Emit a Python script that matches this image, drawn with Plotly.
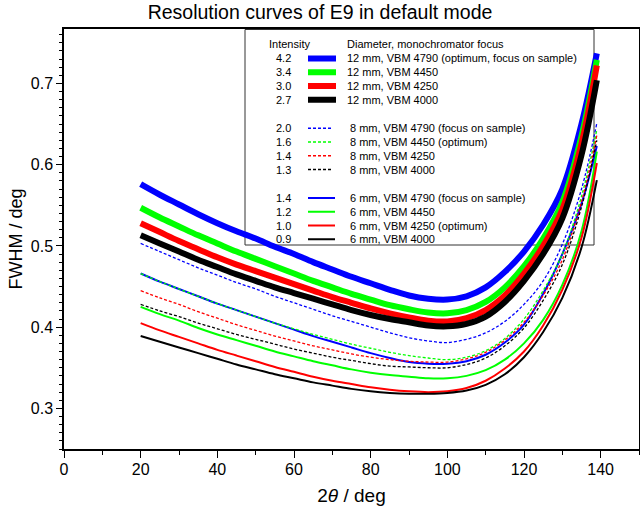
import plotly.graph_objects as go

# ---------------- data ----------------
two_theta = [20, 25, 30, 35, 40, 45, 50, 55, 60, 65, 70, 75, 80, 85, 90, 95, 100, 105, 110, 115, 120, 125, 130, 135, 139]

# 12 mm diameter (thick)
mm12_vbm4790 = [0.576, 0.563, 0.551, 0.539, 0.528, 0.518, 0.509, 0.499, 0.490, 0.480, 0.471, 0.462, 0.454, 0.446, 0.439, 0.435, 0.434, 0.438, 0.449, 0.468, 0.493, 0.526, 0.570, 0.650, 0.737]
mm12_vbm4450 = [0.547, 0.535, 0.524, 0.513, 0.503, 0.493, 0.484, 0.475, 0.466, 0.457, 0.449, 0.441, 0.434, 0.427, 0.422, 0.418, 0.417, 0.421, 0.431, 0.449, 0.475, 0.509, 0.554, 0.635, 0.729]
mm12_vbm4250 = [0.528, 0.517, 0.506, 0.496, 0.486, 0.477, 0.469, 0.461, 0.453, 0.445, 0.437, 0.430, 0.423, 0.417, 0.412, 0.408, 0.407, 0.411, 0.421, 0.439, 0.466, 0.500, 0.545, 0.626, 0.722]
mm12_vbm4000 = [0.513, 0.503, 0.493, 0.483, 0.474, 0.465, 0.457, 0.449, 0.442, 0.435, 0.428, 0.421, 0.415, 0.410, 0.406, 0.402, 0.401, 0.404, 0.413, 0.431, 0.457, 0.490, 0.534, 0.612, 0.704]

# 8 mm diameter (dashed)
mm8_vbm4790 = [0.503, 0.493, 0.483, 0.473, 0.464, 0.455, 0.447, 0.438, 0.430, 0.422, 0.414, 0.407, 0.400, 0.393, 0.387, 0.383, 0.381, 0.385, 0.393, 0.407, 0.428, 0.457, 0.502, 0.570, 0.651]
mm8_vbm4450 = [0.466, 0.456, 0.447, 0.438, 0.429, 0.421, 0.413, 0.405, 0.398, 0.391, 0.385, 0.379, 0.374, 0.369, 0.365, 0.362, 0.360, 0.363, 0.371, 0.386, 0.410, 0.445, 0.490, 0.561, 0.643]
mm8_vbm4250 = [0.445, 0.436, 0.428, 0.419, 0.411, 0.403, 0.396, 0.389, 0.383, 0.377, 0.372, 0.367, 0.363, 0.360, 0.358, 0.357, 0.357, 0.361, 0.369, 0.384, 0.406, 0.439, 0.483, 0.554, 0.636]
mm8_vbm4000 = [0.428, 0.420, 0.413, 0.405, 0.398, 0.391, 0.385, 0.379, 0.373, 0.368, 0.363, 0.359, 0.355, 0.352, 0.351, 0.350, 0.350, 0.354, 0.362, 0.377, 0.399, 0.433, 0.477, 0.548, 0.630]

# 6 mm diameter (thin)
mm6_vbm4790 = [0.466, 0.456, 0.447, 0.438, 0.429, 0.421, 0.413, 0.405, 0.397, 0.389, 0.382, 0.375, 0.368, 0.362, 0.357, 0.355, 0.355, 0.358, 0.366, 0.381, 0.403, 0.441, 0.490, 0.552, 0.623]
mm6_vbm4450 = [0.425, 0.416, 0.408, 0.399, 0.391, 0.384, 0.377, 0.370, 0.364, 0.358, 0.353, 0.348, 0.344, 0.341, 0.339, 0.337, 0.337, 0.340, 0.347, 0.360, 0.380, 0.409, 0.452, 0.518, 0.616]
mm6_vbm4250 = [0.405, 0.396, 0.388, 0.380, 0.372, 0.365, 0.358, 0.351, 0.345, 0.339, 0.334, 0.330, 0.326, 0.323, 0.321, 0.320, 0.321, 0.325, 0.334, 0.349, 0.370, 0.402, 0.446, 0.510, 0.602]
mm6_vbm4000 = [0.389, 0.382, 0.375, 0.368, 0.361, 0.354, 0.348, 0.342, 0.337, 0.332, 0.328, 0.324, 0.321, 0.319, 0.318, 0.318, 0.319, 0.322, 0.329, 0.342, 0.363, 0.394, 0.436, 0.498, 0.581]

intensities = ["4.2", "3.4", "3.0", "2.7", "2.0", "1.6", "1.4", "1.3", "1.4", "1.2", "1.0", "0.9"]
labels = [
    "12 mm, VBM 4790 (optimum, focus on sample)",
    "12 mm, VBM 4450",
    "12 mm, VBM 4250",
    "12 mm, VBM 4000",
    "8 mm, VBM 4790 (focus on sample)",
    "8 mm, VBM 4450 (optimum)",
    "8 mm, VBM 4250",
    "8 mm, VBM 4000",
    "6 mm, VBM 4790 (focus on sample)",
    "6 mm, VBM 4450",
    "6 mm, VBM 4250 (optimum)",
    "6 mm, VBM 4000",
]
x_ticks = [0, 20, 40, 60, 80, 100, 120, 140]
y_ticks = [0.3, 0.4, 0.5, 0.6, 0.7]

series = [mm12_vbm4790, mm12_vbm4450, mm12_vbm4250, mm12_vbm4000,
          mm8_vbm4790, mm8_vbm4450, mm8_vbm4250, mm8_vbm4000,
          mm6_vbm4790, mm6_vbm4450, mm6_vbm4250, mm6_vbm4000]

# ---------------- styles ----------------
colors = ["#0000FF", "#00FF00", "#FF0000", "#000000"] * 3
widths = [6] * 4 + [1.3] * 4 + [2] * 4
dashes = ["solid"] * 4 + ["3px,2px"] * 4 + ["solid"] * 4

FONT = "Arial, Liberation Sans, sans-serif"
W, H = 640, 515
L, R, T, B = 64, 1, 29, 66
PW, PH = W - L - R, H - T - B

def px(x):
    return (x - L) / PW

def py(y):
    return (H - B - y) / PH

fig = go.Figure()
# draw thin first, then dashed, then thick
for i in list(range(8, 12)) + list(range(4, 8)) + list(range(0, 4)):
    fig.add_trace(go.Scatter(
        x=two_theta, y=series[i], mode="lines", name=labels[i],
        line=dict(color=colors[i], width=widths[i], dash=dashes[i], shape="spline", smoothing=1.0),
        showlegend=False, hoverinfo="skip"))

shapes = []
annotations = []
# legend box
shapes.append(dict(type="rect", xref="paper", yref="paper",
                   x0=px(245), x1=px(594), y0=py(245), y1=py(29.5),
                   line=dict(color="#333333", width=1), fillcolor="white", layer="below"))
annotations.append(dict(text="Intensity", xref="paper", yref="paper", x=px(267), y=py(44.5),
                        xanchor="left", yanchor="middle", showarrow=False,
                        font=dict(family=FONT, size=11, color="black")))
annotations.append(dict(text="Diameter, monochromator focus", xref="paper", yref="paper",
                        x=px(345), y=py(44.5), xanchor="left", yanchor="middle", showarrow=False,
                        font=dict(family=FONT, size=11, color="black")))
for i in range(12):
    g = i // 4
    ypix = 58.5 + 13.75 * i + 14.75 * g
    x1 = [336, 331, 335][g]
    tx = [345, 348, 348][g]
    shapes.append(dict(type="line", xref="paper", yref="paper",
                       x0=px(308), x1=px(x1), y0=py(ypix), y1=py(ypix),
                       line=dict(color=colors[i], width=widths[i], dash=dashes[i])))
    annotations.append(dict(text=intensities[i], xref="paper", yref="paper", x=px(292.5), y=py(ypix),
                            xanchor="right", yanchor="middle", showarrow=False,
                            font=dict(family=FONT, size=11, color="black")))
    annotations.append(dict(text=labels[i], xref="paper", yref="paper", x=px(tx), y=py(ypix),
                            xanchor="left", yanchor="middle", showarrow=False,
                            font=dict(family=FONT, size=11, color="black")))

fig.update_layout(
    width=W, height=H,
    margin=dict(l=L, r=R, t=T, b=B, autoexpand=False),
    paper_bgcolor="white", plot_bgcolor="white",
    title=dict(text="Resolution curves of E9 in default mode", x=0.5, xref="container", xanchor="center",
               y=1 - 12 / H, yref="container", yanchor="middle",
               font=dict(family=FONT, size=19.5, color="black")),
    font=dict(family=FONT, color="black"),
    shapes=shapes, annotations=annotations,
)
fig.update_xaxes(range=[0, 150], tickvals=x_ticks, ticktext=[str(v) for v in x_ticks],
                 ticks="outside", ticklen=7, tickwidth=1.3, tickcolor="black",
                 minor=dict(dtick=10, tick0=0, ticks="outside", ticklen=4, tickwidth=1.3, tickcolor="black"),
                 showline=True, linecolor="black", linewidth=1.5, mirror=True,
                 showgrid=False, zeroline=False, ticklabelstandoff=-2,
                 tickfont=dict(family=FONT, size=16, color="black"),
                 title=dict(text="2<i>θ</i> / deg", font=dict(family=FONT, size=19, color="black"), standoff=12))
fig.update_yaxes(range=[0.25, 0.767], tickvals=y_ticks, ticktext=["0.3", "0.4", "0.5", "0.6", "0.7"],
                 ticks="outside", ticklen=6, tickwidth=1.3, tickcolor="black",
                 minor=dict(dtick=0.01, tick0=0, ticks="outside", ticklen=3, tickwidth=1, tickcolor="black"),
                 showline=True, linecolor="black", linewidth=1.5, mirror=True,
                 showgrid=False, zeroline=False,
                 tickfont=dict(family=FONT, size=16, color="black"),
                 title=dict(text="FWHM / deg", font=dict(family=FONT, size=18, color="black"), standoff=3))

fig.write_html("out.html", config={"displayModeBar": False},
               post_script="document.body.style.margin='0';")
